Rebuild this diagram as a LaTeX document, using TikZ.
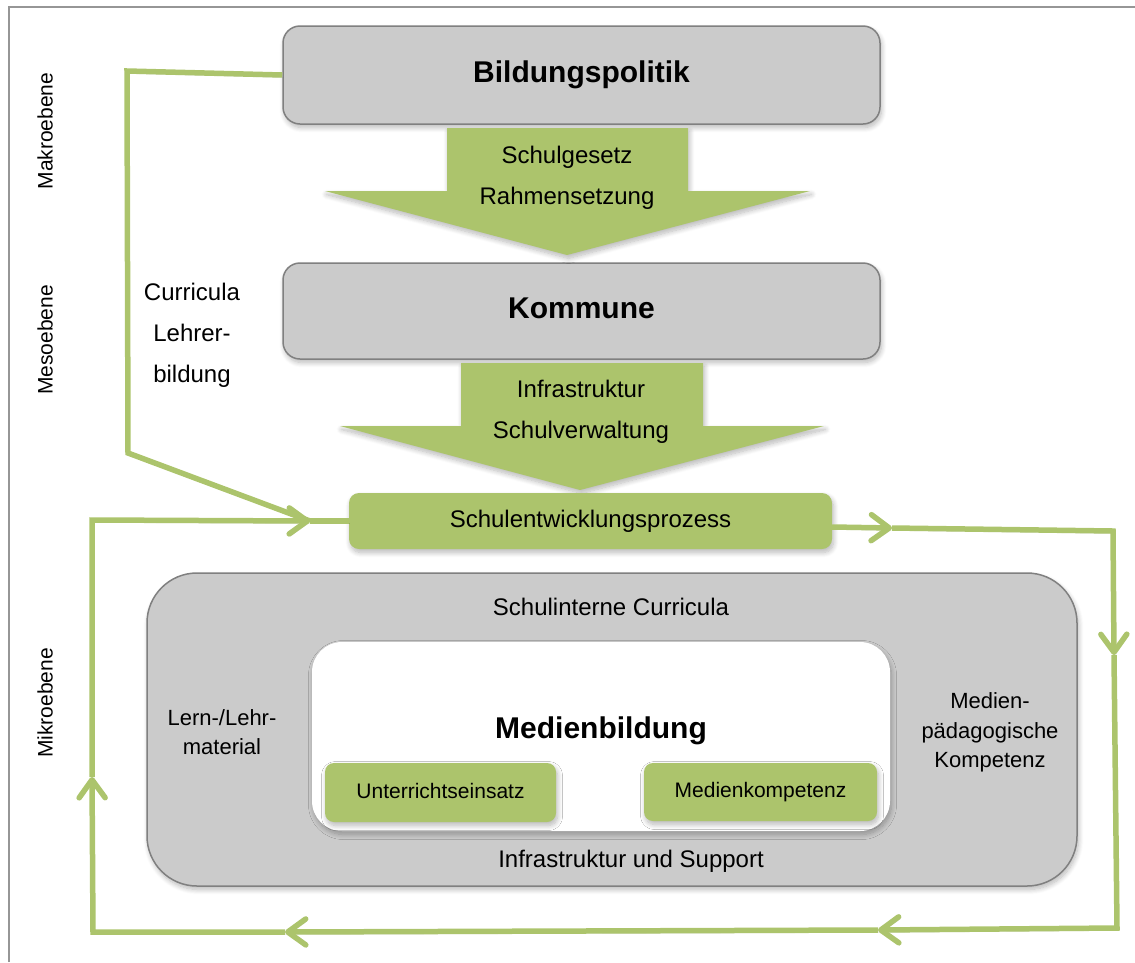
\documentclass[tikz,border=0pt]{standalone}
\usepackage{fontspec}
\setmainfont{Liberation Sans}
\usetikzlibrary{arrows.meta,calc,shadows.blur}

\definecolor{leafgreen}{RGB}{172,196,108}
\definecolor{boxgray}{RGB}{203,203,203}
\definecolor{edgegray}{RGB}{128,128,128}
\definecolor{framegray}{RGB}{150,150,150}

\tikzset{
  softshadow/.style={blur shadow={shadow xshift=1.5pt, shadow yshift=-3.5pt,
      shadow blur radius=5pt, shadow blur steps=10, shadow opacity=28}},
  levelbox/.style={draw=edgegray, line width=1.5pt, fill=boxgray,
      rounded corners=17pt, softshadow, inner sep=0pt,
      font=\fontsize{30}{36}\selectfont\bfseries,
      text height=22pt, text depth=7pt},
  greenbox/.style={fill=leafgreen, rounded corners=9pt, softshadow, inner sep=0pt,
      font=\fontsize{21}{25}\selectfont, text height=15pt, text depth=4pt},
  blockarrow/.style={fill=leafgreen, softshadow},
  conn/.style={draw=leafgreen, line width=5.5pt, line join=miter,
      preaction={draw=black, opacity=0.12, transform canvas={xshift=1pt,yshift=-2.5pt}}},
  barb/.style={-{Straight Barb[length=18pt,width=26pt,round]}},
  plain/.style={font=\fontsize{24}{41}\selectfont, align=center, inner sep=0pt},
  side/.style={font=\fontsize{22}{29.5}\selectfont, align=center, inner sep=0pt},
  level/.style={font=\fontsize{21}{25}\selectfont, rotate=90, inner sep=0pt},
}

\begin{document}
\begin{tikzpicture}[x=1pt,y=-1pt]
\useasboundingbox (0,0) rectangle (1135,962);

% outer frame
\draw[framegray, line width=1.8pt] (9,962) -- (9,7) -- (1136,7);

% level labels
\node[level] (makro) at (45,131) {Makroebene};
\node[level] (meso)  at (45,340) {Mesoebene};
\node[level] (mikro) at (45,703) {Mikroebene};

% policy levels
\node[levelbox, minimum width=597pt, minimum height=98pt] (bp) at (581.5,75) {Bildungspolitik};
\node[levelbox, minimum width=597pt, minimum height=96pt] (kom) at (581.5,311) {Kommune};

% block arrows between the levels
\fill[blockarrow] (447,128) -- (688,128) -- (688,191) -- (810,191) -- (567,255)
   -- (325,191) -- (447,191) -- cycle;
\node[plain] (arr1) at (567,178) {Schulgesetz\\Rahmensetzung};

\fill[blockarrow] (461,363) -- (703,363) -- (703,426) -- (824,426) -- (580,490)
   -- (340,426) -- (461,426) -- cycle;
\node[plain] (arr2) at (581,412) {Infrastruktur\\Schulverwaltung};

% school development process
\node[greenbox, rounded corners=10pt, minimum width=483pt, minimum height=56pt,
      font=\fontsize{24}{28}\selectfont, text height=17pt, text depth=5pt]
      (sep) at (590.5,521) {Schulentwicklungsprozess};

% school level
\node[fill=boxgray, draw=edgegray, line width=1.5pt, rounded corners=50pt,
      minimum width=930pt, minimum height=313pt, softshadow] (school) at (612,729.5) {};
\node[fill=white, rounded corners=30pt, minimum width=578pt, minimum height=189pt,
      softshadow] (core) at (601,736.5) {};

\node[plain] (sic) at (611,607) {Schulinterne Curricula};
\node[plain] (ius) at (631,861) {Infrastruktur und Support};
\node[side] (llm) at (222,732) {Lern-/Lehr-\\material};
\node[side] (mpk) at (990,732.5) {Medien-\\pädagogische\\Kompetenz};

\node[font=\fontsize{30}{36}\selectfont\bfseries, inner sep=0pt] (mb) at (601,731) {Medienbildung};
\node[greenbox, minimum width=231pt, minimum height=59pt] (ue) at (440.5,792.5) {Unterrichtseinsatz};
\node[greenbox, minimum width=233pt, minimum height=58pt] (mk) at (760.5,792) {Medienkompetenz};

% left feedback branch: curricula and teacher education
\node[plain] (cur) at (192,335) {Curricula\\Lehrer-\\bildung};

\coordinate (c5) at (127,71);
\coordinate (c6) at (128,453);
\coordinate (tf) at (310,521);
\coordinate (c4) at (92,520);
\coordinate (te) at (92,777);
\coordinate (c3) at (93,932);
\coordinate (td) at (285,932);
\coordinate (tc) at (878,930);
\coordinate (c2) at (1117,928);
\coordinate (tb) at (1114,655);
\coordinate (c1) at (1113,531);
\coordinate (ta) at (892,528);

\draw[conn] (bp.west) -- (c5) -- (c6) -- (tf);

% cycle around the school level
\draw[conn, barb] ([yshift=-6pt]sep.east) -- (ta);
\draw[conn, barb] (ta) -- (c1) -- (tb);
\draw[conn, barb] (tb) -- (c2) -- (tc);
\draw[conn, barb] (tc) -- (td);
\draw[conn, barb] (td) -- (c3) -- (te);
\draw[conn, barb] (te) -- (c4) -- (tf);
\draw[conn] (tf) -- (sep.west);
\end{tikzpicture}
\end{document}
